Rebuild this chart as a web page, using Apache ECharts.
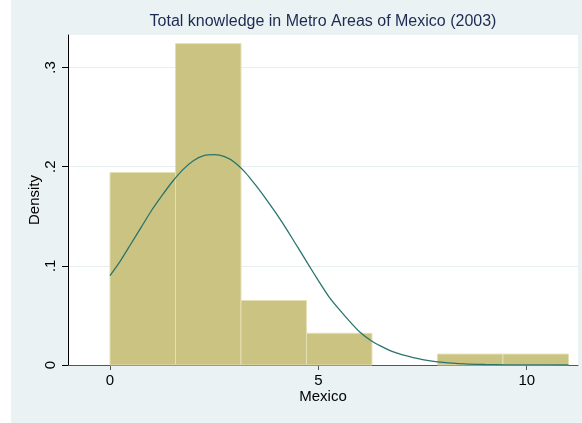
<!DOCTYPE html>
<html>
<head>
<meta charset="utf-8">
<script src="https://cdn.jsdelivr.net/npm/echarts@6/dist/echarts.min.js"></script>
<style>
html,body{margin:0;padding:0;background:#ffffff;}
#chart{position:absolute;left:11px;top:0;width:571px;height:423px;background:#eaf2f3;}
</style>
</head>
<body>
<div id="chart"></div>
<script>
// Histogram bins (bin edges in Mexico units) and densities
const binEdges = [0, 1.5714, 3.1429, 4.7143, 6.2857, 7.8571, 9.4286, 11];
const densities = [0.194, 0.324, 0.065, 0.032, 0, 0.011, 0.011];

// Normal density overlay
const curveX = [0, 0.25, 0.5, 0.75, 1, 1.25, 1.5, 1.75, 2, 2.25, 2.5, 2.75, 3, 3.25, 3.5, 3.75, 4, 4.25, 4.5, 4.75, 5, 5.25, 5.5, 5.75, 6, 6.25, 6.5, 6.75, 7, 7.5, 8, 8.5, 9, 9.5, 10, 10.5, 11];
const curveY = [0.090, 0.105, 0.122, 0.139, 0.156, 0.171, 0.185, 0.197, 0.206, 0.211, 0.212, 0.210, 0.204, 0.194, 0.181, 0.167, 0.152, 0.136, 0.119, 0.102, 0.085, 0.069, 0.056, 0.044, 0.033, 0.025, 0.019, 0.014, 0.0105, 0.0055, 0.0026, 0.0011, 0.0005, 0.0002, 0.0001, 0.00003, 0.00001];

// Tick labels
const xTickValues = [0, 5, 10];
const yTickValues = [0, 0.1, 0.2, 0.3];
const yTickLabels = ['0', '.1', '.2', '.3'];

const titleText = 'Total knowledge in Metro Areas of Mexico (2003)';
const xTitle = 'Mexico';
const yTitle = 'Density';

const barData = [];
densities.forEach((d, i) => { if (d > 0) barData.push([binEdges[i], binEdges[i + 1], d]); });
const curveData = curveX.map((x, i) => [x, curveY[i]]);

const chart = echarts.init(document.getElementById('chart'), null, {renderer: 'canvas'});
const FONT = '"Liberation Sans", Arial, sans-serif';

chart.setOption({
  animation: false,
  backgroundColor: 'transparent',
  graphic: [
    {type: 'text', x: 312, y: 22, style: {text: titleText, fontFamily: FONT, fontSize: 16, fill: '#1c2a52', align: 'center', verticalAlign: 'middle'}},
    {type: 'text', x: 312, y: 397, style: {text: xTitle, fontFamily: FONT, fontSize: 15, fill: '#000', align: 'center', verticalAlign: 'middle'}},
    {type: 'text', x: 24, y: 200, rotation: Math.PI / 2, style: {text: yTitle, fontFamily: FONT, fontSize: 15, fill: '#000', align: 'center', verticalAlign: 'middle'}}
  ],
  grid: {left: 57, right: 4, top: 35, bottom: 58, show: true, backgroundColor: '#ffffff', borderWidth: 0},
  xAxis: {
    type: 'value', min: -1.008, max: 11.23,
    axisLine: {show: true, onZero: false, lineStyle: {color: '#555', width: 1}},
    axisTick: {show: true, customValues: xTickValues, length: 5, lineStyle: {color: '#555'}},
    axisLabel: {show: true, customValues: xTickValues, fontFamily: FONT, fontSize: 15, color: '#000', margin: 8},
    splitLine: {show: false}
  },
  yAxis: {
    type: 'value', min: 0, max: 0.3327,
    axisLine: {show: true, onZero: false, lineStyle: {color: '#000', width: 1}},
    axisTick: {show: true, customValues: yTickValues, length: 6, lineStyle: {color: '#000'}},
    axisLabel: {
      show: true, customValues: yTickValues, rotate: 90, fontFamily: FONT, fontSize: 15, color: '#000', margin: 10,
      formatter: v => yTickLabels[Math.round(v * 10)]
    },
    splitLine: {show: true, lineStyle: {color: '#e6eef0', width: 1}}
  },
  series: [
    {
      type: 'custom',
      data: barData,
      z: 2,
      renderItem: function (params, api) {
        const p0 = api.coord([api.value(0), api.value(2)]);
        const p1 = api.coord([api.value(1), 0]);
        return {
          type: 'rect',
          shape: {x: p0[0], y: p0[1], width: p1[0] - p0[0], height: p1[1] - p0[1]},
          style: {fill: '#cbc381', stroke: '#e4dfb4', lineWidth: 1}
        };
      }
    },
    {
      type: 'line',
      data: curveData,
      z: 3,
      smooth: 0.2,
      showSymbol: false,
      lineStyle: {color: '#2a746d', width: 1.3}
    }
  ]
});
</script>
</body>
</html>
